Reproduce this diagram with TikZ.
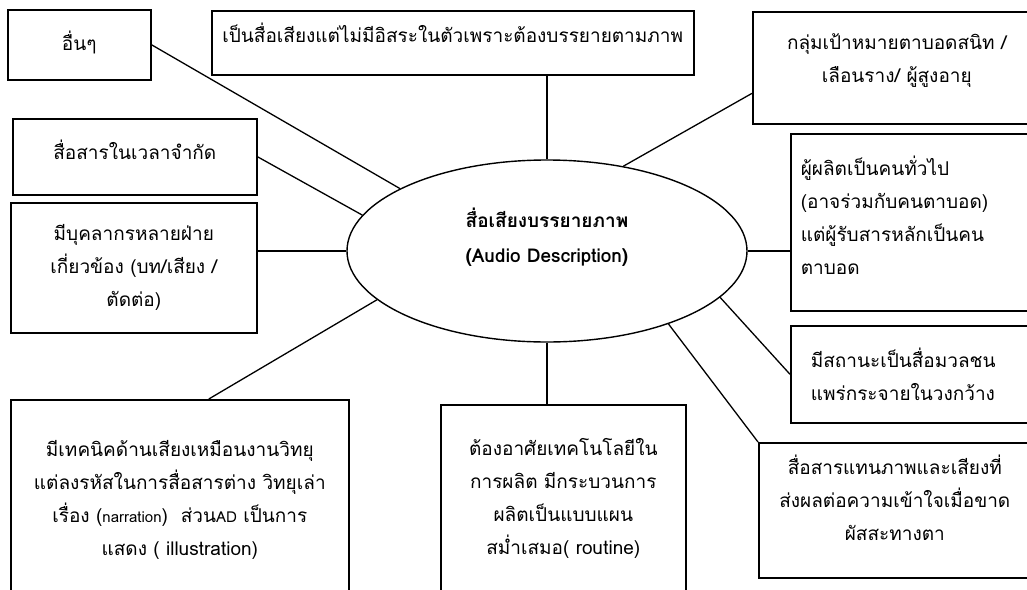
\documentclass[tikz,border=0pt]{standalone}
\usepackage{fontspec}
\setmainfont[Script=Thai]{Loma}
\usetikzlibrary{shapes,positioning}

\begin{document}
\begin{tikzpicture}[x=1pt,y=-1pt,% one unit is one pixel of the sketch, y runs down
      every node/.style={
        align=center,        % so that "\\" breaks the line
        inner sep=0pt,
        font=\fontsize{19}{33}\selectfont
      },
      box/.style={rectangle,draw=black,line width=1.6pt,anchor=north west},
      every edge/.style={draw,line width=1.3pt}
    ]
    \clip (0,0) rectangle (1027,589);
    \node[ellipse,draw=black,line width=1.4pt,minimum width=400pt,minimum height=182pt,
          font=\bfseries\fontsize{19}{35}\selectfont,text depth=31pt](R0) at (547,251)
          {สื่อเสียงบรรยายภาพ\\(Audio Description)};
    \node[box,minimum width=143pt,minimum height=70pt,text depth=9pt](R1) at (7,9) {อื่นๆ};
    \node[box,minimum width=482pt,minimum height=64pt,text depth=21pt](R2) at (211,10)
          {เป็นสื่อเสียงแต่ไม่มีอิสระในตัวเพราะต้องบรรยายตามภาพ};
    \node[box,minimum width=288pt,minimum height=112pt,text depth=19pt](R3) at (752,11)
          {กลุ่มเป้าหมายตาบอดสนิท /\\เลือนราง/ ผู้สูงอายุ};
    \node[box,minimum width=244pt,minimum height=76pt,text depth=15pt](R4) at (12,118) {สื่อสารในเวลาจำกัด};
    \node[box,minimum width=246pt,minimum height=130pt](R5) at (10,202)
          {มีบุคลากรหลายฝ่าย\\เกี่ยวข้อง (บท/เสียง /\\ตัดต่อ)};
    \node[box,align=left,inner xsep=10pt,text width=230pt,minimum height=177pt,text depth=114pt](R7) at (790,133)
          {ผู้ผลิตเป็นคนทั่วไป\\(อาจร่วมกับคนตาบอด)\\แต่ผู้รับสารหลักเป็นคน\\ตาบอด};
    \node[box,align=left,inner xsep=20pt,text width=210pt,minimum height=97pt](R8) at (790,325)
          {มีสถานะเป็นสื่อมวลชน\\แพร่กระจายในวงกว้าง};
    \node[box,minimum width=272pt,minimum height=135pt,text depth=25pt](R9) at (758,442)
          {สื่อสารแทนภาพและเสียงที่\\ส่งผลต่อความเข้าใจเมื่อขาด\\ผัสสะทางตา};
    \node[box,minimum width=338pt,minimum height=200pt](R10) at (10,399)
          {มีเทคนิคด้านเสียงเหมือนงานวิทยุ\\แต่ลงรหัสในการสื่อสารต่าง วิทยุเล่า\\เรื่อง ({\fontsize{15}{33}\selectfont narration})\ \ ส่วน{\fontsize{15}{33}\selectfont AD} เป็นการ\\แสดง ( illustration)};
    \node[box,minimum width=245pt,minimum height=196pt,text depth=13pt](R11) at (440,404)
          {ต้องอาศัยเทคโนโลยีใน\\การผลิต มีกระบวนการ\\ผลิตเป็นแบบแผน\\สม่ำเสมอ( routine)};
    \path
      (R1.east) edge (R0.157)
      (R0.north) edge (R0.north |- R2.south)
      (R3.190) edge (R0.48)
      (R4.east) edge (R0.169)
      (R5.east |- R0.west) edge (R0.west)
      (R0.east) edge (R0.east -| R7.west)
      (R0.-15) edge (R8.west)
      (R0.-31) edge (R9.north west)
      ([xshift=29pt]R10.north) edge (R0.196)
      (R0.south) edge (R0.south |- R11.north)
      ;
\end{tikzpicture}
\end{document}
